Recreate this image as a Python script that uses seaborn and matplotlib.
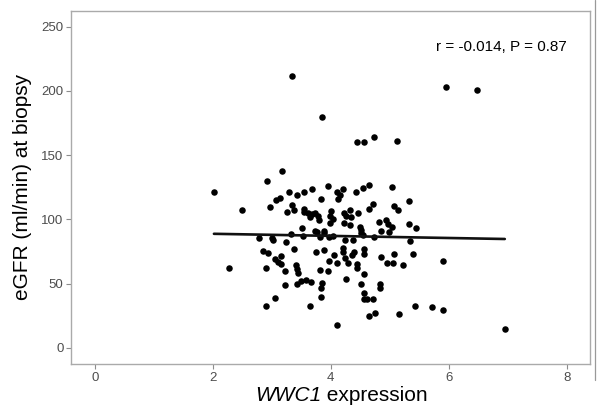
import matplotlib
matplotlib.use("Agg")
import matplotlib.pyplot as plt
from matplotlib.lines import Line2D
import seaborn as sns
import pandas as pd

# WWC1 expression vs eGFR at biopsy
wwc1 = [3.34, 5.95, 6.48, 3.85, 4.44, 4.57, 4.73, 5.12, 3.17, 2.92,
        # ~115-126
        2.02, 3.08, 3.14, 3.29, 3.43, 3.55, 3.68, 3.96, 3.83, 4.11,
        4.15, 4.13, 4.21, 4.43, 4.54, 4.65, 5.03, 5.33,
        # ~100-112
        2.49, 2.97, 3.26, 3.34, 3.38, 3.55, 3.54, 3.61, 3.64, 3.69,
        3.73, 3.78, 3.80, 4.00, 3.99, 4.03, 4.23, 4.32, 4.26, 4.34,
        4.46, 4.71, 4.65, 5.08, 5.14,
        # ~88-100
        3.51, 3.73, 3.76, 3.88, 3.89, 3.99, 4.23, 4.32, 4.50, 4.51,
        4.52, 4.54, 4.81, 4.94, 4.97, 5.04, 4.85, 4.98, 5.33, 5.44,
        3.33, 3.53,
        # ~80-88
        2.78, 3.00, 3.02, 3.82, 3.97, 4.04, 4.24, 4.38, 4.74, 5.35,
        3.25,
        # ~58-78
        3.37, 2.85, 2.93, 3.05, 3.10, 3.16, 3.16, 2.91, 2.27, 3.23,
        3.41, 3.43, 3.44, 3.75, 3.89, 3.97, 4.06, 4.10, 3.81, 3.96,
        4.20, 4.20, 4.24, 4.36, 4.39, 4.29, 4.45, 4.57, 4.56, 4.44,
        4.56, 4.86, 5.07, 5.06, 4.96, 5.40, 5.23, 5.91,
        # ~38-54
        3.23, 3.43, 3.50, 3.58, 3.67, 3.86, 3.84, 3.83, 4.26, 4.51,
        4.83, 4.83, 4.57, 4.56, 4.62, 4.72, 3.05,
        # low
        2.91, 3.65, 4.10, 4.65, 4.75, 5.16, 5.42, 5.72, 5.91, 6.95]
egfr = [212, 203, 201, 180, 160, 160, 164, 161, 138, 130,
        121, 115.5, 117, 121, 118.7, 121, 124, 126, 115.6, 121.5,
        119, 116, 124, 121, 124.5, 126.5, 125, 114,
        107, 110, 106, 111, 107.4, 108, 105.8, 104.8, 102.2, 104,
        105.3, 102.7, 99.6, 106.6, 102.7, 100, 105, 107.4, 102.7, 102.2,
        104.8, 111.8, 108.4, 110.5, 107.4,
        93.7, 91, 90, 91, 89.3, 97, 97, 95.7, 94.5, 91.9,
        89.3, 87.8, 98, 99.6, 96.3, 94.5, 91, 89.9, 96.5, 93,
        88.5, 87.2,
        85.4, 85.4, 84.1, 86, 86.5, 87, 83.9, 83.9, 86, 82.9,
        82.1,
        76.9, 75.6, 73.8, 69, 66.6, 65.3, 71.7, 62, 62.4, 59.5,
        64.3, 61.4, 58.3, 74.6, 76, 67.9, 72, 66, 60.9, 60.1,
        77.5, 75, 70, 72.5, 74.5, 66, 65.3, 76.9, 73, 62,
        57.8, 71, 72.8, 65.8, 65.8, 72.8, 64.3, 68,
        49.2, 49.6, 52.4, 52.9, 51.1, 50.3, 46.3, 39.5, 53.7, 49.8,
        49.6, 46.7, 42.6, 38.2, 38.2, 38.2, 39,
        32.5, 32.5, 17.5, 24.8, 27.3, 26.6, 33, 32.2, 29.4, 14.7]

x_ticks = [0, 2, 4, 6, 8]
y_ticks = [0, 50, 100, 150, 200, 250]
annot = "r = -0.014, P = 0.87"

df = pd.DataFrame({"wwc1": wwc1, "egfr": egfr})

sns.set_style("white")
plt.rcParams["font.family"] = ["Liberation Sans", "DejaVu Sans"]

fig = plt.figure(figsize=(6.03, 4.09), dpi=100)
ax = fig.add_axes([0.118, 0.110, 0.861, 0.864])

sns.regplot(data=df, x="wwc1", y="egfr", ax=ax, ci=None,
            scatter_kws={"s": 22, "color": "black", "linewidths": 0, "alpha": 1},
            line_kws={"color": "#111111", "lw": 1.9})

ax.set_xlim(-0.4, 8.4)
ax.set_ylim(-12.5, 262.5)
ax.set_xticks(x_ticks)
ax.set_yticks(y_ticks)
ax.tick_params(axis="both", length=3.5, width=0.8, color="#8c8c8c",
               labelcolor="#4d4d4d", labelsize=9.5, pad=2)
ax.tick_params(axis="both", which="both", bottom=True, left=True)
for s in ax.spines.values():
    s.set_color("#aaaaaa")
    s.set_linewidth(1.0)

ax.set_xlabel("")
ax.set_ylabel("eGFR (ml/min) at biopsy", fontsize=15, labelpad=7, color="black")
ax.text(5.78, 234, annot, ha="left", va="center", fontsize=11, color="black")

# x label: italic gene name followed by plain text, centred as a whole
fig.canvas.draw()
rend = fig.canvas.get_renderer()
t1 = fig.text(0, 0.032, "WWC1", fontsize=15, style="italic", va="center",
              color="black")
t2 = fig.text(0, 0.032, " expression", fontsize=15, va="center", color="black")
w1 = t1.get_window_extent(rend).width / fig.bbox.width
w2 = t2.get_window_extent(rend).width / fig.bbox.width
x0 = 0.566 - (w1 + w2) / 2
t1.set_x(x0)
t2.set_x(x0 + w1)

# thin gray edge at the right of the reference crop
fig.add_artist(Line2D([0.986, 0.986], [0.07, 1.0], color="#999999", lw=0.9,
                      transform=fig.transFigure))

fig.savefig("out.png", dpi=100)
